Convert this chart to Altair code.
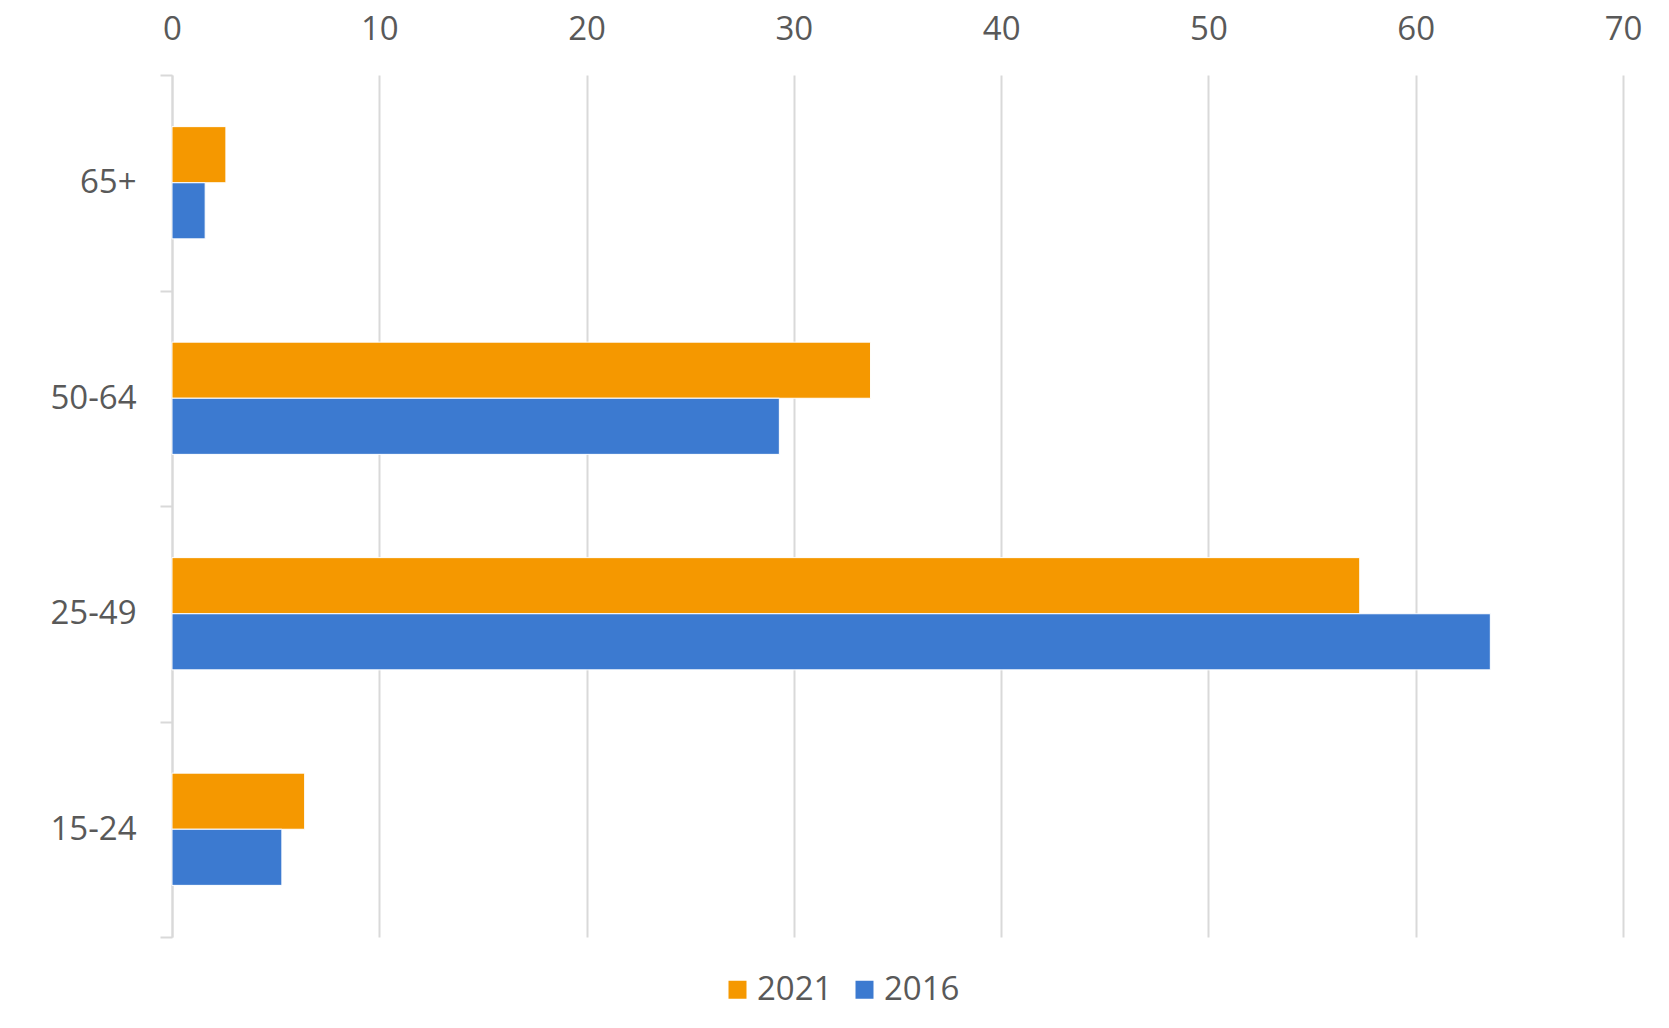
import pandas as pd
import altair as alt

# Age bands (top to bottom) and share per year
ages = ['65+', '50-64', '25-49', '15-24']
years = ['2021', '2016']
values_2021 = [2.6, 33.7, 57.3, 6.4]
values_2016 = [1.6, 29.3, 63.6, 5.3]
colors = ['#F59800', '#3C7AD0']
x_ticks = [0, 10, 20, 30, 40, 50, 60, 70]

rows = []
for age, v21, v16 in zip(ages, values_2021, values_2016):
    rows.append({'age': age, 'year': '2021', 'value': v21})
    rows.append({'age': age, 'year': '2016', 'value': v16})
df = pd.DataFrame(rows)

font = 'Open Sans'
text_color = '#595959'
grid_color = '#d9d9d9'

chart = alt.Chart(df).mark_bar(stroke='white', strokeWidth=1).encode(
    x=alt.X('value:Q',
            scale=alt.Scale(domain=[0, 70], nice=False),
            axis=alt.Axis(orient='top', values=x_ticks, title=None,
                          grid=True, gridColor=grid_color, gridWidth=2,
                          domain=False, ticks=False, tickSize=0,
                          labelFlush=False, labelBound=False,
                          labelPadding=29, labelFont=font, labelFontSize=33,
                          labelColor=text_color)),
    y=alt.Y('age:N', sort=ages,
            scale=alt.Scale(paddingInner=0, paddingOuter=0),
            axis=alt.Axis(title=None, grid=False,
                          domainColor=grid_color, domainWidth=2,
                          tickColor=grid_color, tickWidth=2, tickSize=12,
                          tickBand='extent', labelPadding=24,
                          labelFont=font, labelFontSize=33,
                          labelColor=text_color)),
    yOffset=alt.YOffset('year:N', sort=years,
                        scale=alt.Scale(paddingInner=0, paddingOuter=0.92)),
    color=alt.Color('year:N',
                    scale=alt.Scale(domain=years, range=colors),
                    legend=alt.Legend(orient='none', legendX=549, legendY=898,
                                      direction='horizontal', title=None,
                                      symbolType='square', symbolSize=324,
                                      symbolStrokeWidth=0, labelOffset=3,
                                      columnPadding=15, padding=0,
                                      labelFont=font, labelFontSize=33,
                                      labelColor=text_color)),
).properties(
    width=1451,
    height=862,
    background='white',
    autosize=alt.AutoSizeParams(type='none'),
    padding={'left': 164, 'top': 67, 'right': 38, 'bottom': 83},
).configure_view(
    stroke=None
)

chart.save('out.html', embed_options={'renderer': 'svg', 'actions': False})
